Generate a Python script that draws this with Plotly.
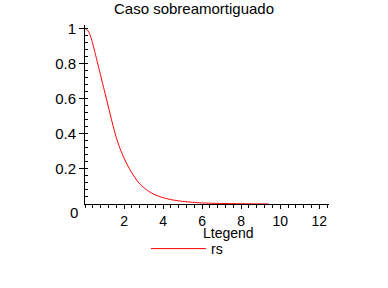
import plotly.graph_objects as go

# Values
t_vals = [0.0, 0.1, 0.2, 0.3, 0.4, 0.5, 0.6, 0.8, 1.0, 1.2, 1.4, 1.6, 1.8, 2.0, 2.2, 2.5,
          2.8, 3.2, 3.6, 4.0, 4.5, 5.0, 5.5, 6.0, 7.0, 8.0, 9.4]
y_vals = [1.0, 0.994, 0.978, 0.95, 0.912, 0.868, 0.823, 0.733, 0.643, 0.553, 0.462, 0.38, 0.315, 0.262, 0.216, 0.16,
          0.115, 0.077, 0.052, 0.036, 0.023, 0.015, 0.01, 0.006, 0.003, 0.0015, 0.0005]

title_text = "Caso sobreamortiguado"
legend_title = "Ltegend"
series_name = "rs"
x_ticks = [2, 4, 6, 8, 10, 12]
y_ticks = [0.2, 0.4, 0.6, 0.8, 1]
y_tick_text = ["0.2", "0.4", "0.6", "0.8", "1"]

FONT = "Liberation Sans, Arial, sans-serif"

fig = go.Figure()
fig.add_trace(go.Scatter(x=t_vals, y=y_vals, mode="lines", name=series_name,
                         line=dict(color="#ff0000", width=1, shape="spline", smoothing=0.8)))

fig.update_layout(
    width=388, height=288,
    margin=dict(l=85, r=59, t=25, b=84, autoexpand=False),
    paper_bgcolor="white", plot_bgcolor="white",
    font=dict(family=FONT, size=15, color="black"),
    title=dict(text=title_text, x=0.5, xref="container", xanchor="center",
               y=1 - 9 / 288, yref="container", yanchor="middle",
               font=dict(family=FONT, size=15, color="black")),
    showlegend=True,
    legend=dict(xref="container", yref="container", x=146 / 388, y=1 - 233 / 288,
                xanchor="left", yanchor="top", bgcolor="rgba(0,0,0,0)",
                font=dict(family=FONT, size=14), itemwidth=55,
                tracegroupgap=0),
    annotations=[
        dict(text=legend_title, xref="paper", yref="paper", x=(228 - 85) / 244, y=-(233 - 204) / 179,
             showarrow=False, xanchor="center", yanchor="middle", font=dict(family=FONT, size=14)),
        dict(text="0", xref="paper", yref="paper", x=-(85 - 74) / 244, y=-(212 - 204) / 179,
             showarrow=False, xanchor="center", yanchor="middle", font=dict(family=FONT, size=15)),
    ],
)

fig.update_xaxes(range=[0, 12.5], tickvals=x_ticks, ticktext=[str(v) for v in x_ticks],
                 tickangle=0, tickfont=dict(family=FONT, size=14),
                 showgrid=False, zeroline=False, showline=True, linecolor="black", linewidth=1,
                 ticks="outside", ticklen=4, tickcolor="black",
                 minor=dict(dtick=0.4, tick0=0, ticks="outside", ticklen=3, tickcolor="black"),
                 fixedrange=True)
fig.update_yaxes(range=[0, 1.02], tickvals=y_ticks, ticktext=y_tick_text,
                 showgrid=False, zeroline=False, showline=True, linecolor="black", linewidth=1,
                 ticks="outside", ticklen=5, tickcolor="black",
                 minor=dict(dtick=0.04, tick0=0, ticks="inside", ticklen=3, tickcolor="black"),
                 fixedrange=True)

fig.write_html("out.html", config={"displayModeBar": False})
